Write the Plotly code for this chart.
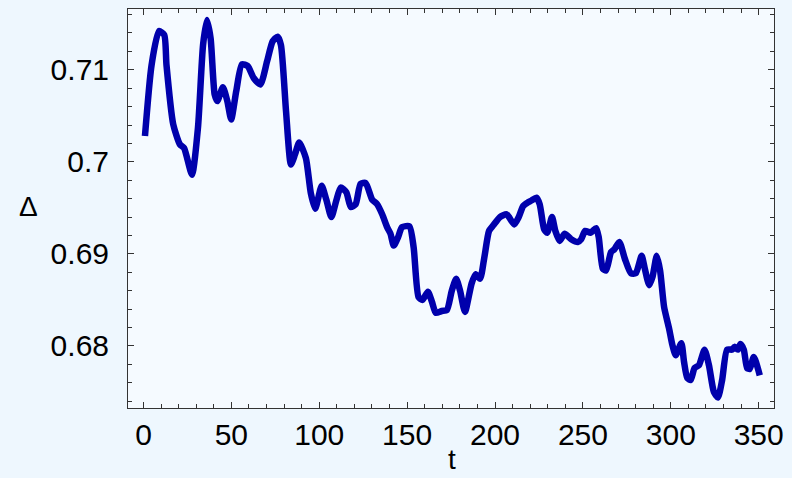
import plotly.graph_objects as go

t_vals = [0.85, 4.6, 8.8, 11.8, 13.1, 16.9, 20.7, 23.1, 27.6, 31.0, 33.9, 36.1, 38.2, 40.5, 42.0,
          45.2, 47.7, 49.9, 52.8, 56.0, 59.3, 62.7, 66.5, 70.3, 73.5, 76.3, 78.2, 81.1, 83.9,
          86.2, 88.6, 92.4, 95.2, 97.7, 101.4, 104.0, 106.9, 109.7, 112.2, 115.4, 117.9,
          120.7, 123.5, 126.4, 130.1, 132.9, 135.8, 138.6, 140.5, 142.4, 144.8, 147.1, 151.3,
          153.7, 156.5, 158.8, 161.8, 164.1, 166.3, 169.7, 172.6, 175.4, 177.9, 180.1, 182.9,
          186.7, 189.0, 191.5, 193.9, 196.6, 199.0, 202.8, 206.6, 210.9, 213.5, 216.0, 218.8,
          220.7, 223.5, 225.4, 227.9, 229.7, 232.4, 234.3, 236.8, 239.6, 243.3, 247.1, 249.0,
          251.3, 254.3, 257.5, 259.0, 261.3, 263.2, 266.0, 267.9, 270.7, 273.8, 277.3, 280.1,
          283.4, 285.1, 287.7, 289.6, 292.0, 293.9, 296.2, 299.0, 300.9, 302.8, 306.0, 307.5,
          309.4, 311.3, 313.5, 316.0, 319.2, 321.7, 324.5, 326.8, 329.2, 332.0, 334.9, 336.2,
          338.1, 339.6, 341.5, 343.4, 344.9, 347.2, 350.6]
delta_vals = [0.7028, 0.7105, 0.7142, 0.7138, 0.7105, 0.7041, 0.7019, 0.7015, 0.6986, 0.7037,
              0.7127, 0.7154, 0.7134, 0.7073, 0.7066, 0.7081, 0.7066, 0.7046, 0.7077, 0.7106,
              0.7104, 0.7091, 0.7084, 0.7109, 0.7131, 0.7136, 0.7127, 0.7055, 0.6997, 0.7008,
              0.7021, 0.7004, 0.6966, 0.6949, 0.6974, 0.6959, 0.6940, 0.6958, 0.6972, 0.6967,
              0.6951, 0.6954, 0.6976, 0.6977, 0.6959, 0.6954, 0.6943, 0.6929, 0.6922, 0.6909,
              0.6918, 0.6929, 0.6930, 0.6907, 0.6853, 0.6850, 0.6859, 0.6848, 0.6836, 0.6838,
              0.6839, 0.6860, 0.6873, 0.6860, 0.6837, 0.6868, 0.6878, 0.6873, 0.6896, 0.6925,
              0.6931, 0.6940, 0.6943, 0.6932, 0.6940, 0.6952, 0.6956, 0.6958, 0.6961, 0.6954,
              0.6927, 0.6923, 0.6940, 0.6925, 0.6914, 0.6922, 0.6916, 0.6913, 0.6916, 0.6925,
              0.6923, 0.6928, 0.6918, 0.6884, 0.6882, 0.6902, 0.6905, 0.6913, 0.6895, 0.6879,
              0.6879, 0.6898, 0.6885, 0.6866, 0.6875, 0.6898, 0.6882, 0.6842, 0.6819, 0.6801,
              0.6790, 0.6803, 0.6783, 0.6765, 0.6763, 0.6776, 0.6779, 0.6796, 0.6779, 0.6750,
              0.6744, 0.6763, 0.6796, 0.6796, 0.6799, 0.6796, 0.6802, 0.6796, 0.6776, 0.6775,
              0.6788, 0.6768]

x_ticks = [0, 50, 100, 150, 200, 250, 300, 350]
x_ticktext = ["0", "50", "100", "150", "200", "250", "300", "350"]
y_ticks = [0.68, 0.69, 0.70, 0.71]
y_ticktext = ["0.68", "0.69", "0.7", "0.71"]

FONT = "Liberation Sans, Arial, Helvetica, sans-serif"

fig = go.Figure()
fig.add_trace(go.Scatter(x=t_vals, y=delta_vals, mode="lines",
                         line=dict(color="rgb(0,0,172)", width=6.5, shape="spline", smoothing=0.6),
                         hoverinfo="skip"))

axis_common = dict(showgrid=False, zeroline=False, showline=True, linecolor="#333333",
                   linewidth=1, mirror="allticks", ticks="inside", tickcolor="#333333",
                   ticklen=6, tickwidth=1,
                   tickfont=dict(family=FONT, size=30, color="black"))

fig.update_layout(
    width=792, height=478,
    margin=dict(l=128, r=15, t=8, b=70),
    paper_bgcolor="#EEF7FE",
    plot_bgcolor="#F5FAFF",
    showlegend=False,
    xaxis=dict(range=[-8.8, 358.7], tickvals=x_ticks, ticktext=x_ticktext,
               ticklabelstandoff=0,
               minor=dict(dtick=10, ticks="inside", ticklen=4, tickcolor="#333333", showgrid=False),
               **axis_common),
    yaxis=dict(range=[0.67326, 0.7166], tickvals=y_ticks, ticktext=y_ticktext,
               ticklabelstandoff=12,
               minor=dict(dtick=0.002, tick0=0.68, ticks="inside", ticklen=4, tickcolor="#333333", showgrid=False),
               **axis_common),
    annotations=[
        dict(text="Δ", xref="paper", yref="paper", x=-0.154, y=0.505, showarrow=False,
             font=dict(family=FONT, size=28, color="black"),
             xanchor="center", yanchor="middle"),
        dict(text="t", xref="paper", yref="paper", x=0.502, y=-0.1725, showarrow=False,
             font=dict(family=FONT, size=28, color="black"),
             xanchor="center", yanchor="bottom"),
    ],
)

fig.write_html("out.html", config={"displayModeBar": False},
               post_script="document.body.style.margin='0';document.body.style.padding='0';"
                           "document.body.style.overflow='hidden';"
                           "document.body.style.background='#EEF7FE';")
